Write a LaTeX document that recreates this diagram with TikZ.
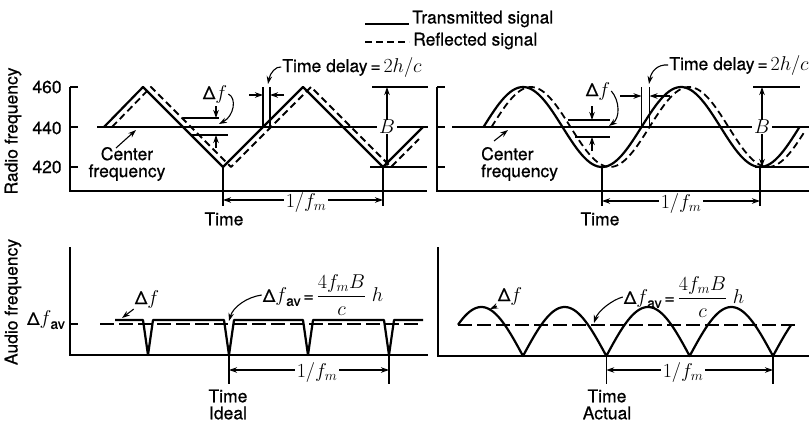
\RequirePackage{fix-cm}
\documentclass[tikz,border=0pt]{standalone}
\usepackage{fontspec}
\setmainfont{TeX Gyre Heros}[UprightFeatures={FakeBold=0.6}]
\usepackage{amsmath}
\usetikzlibrary{arrows.meta}
\newcommand\mm[1]{{\fontsize{20}{22}\selectfont$#1$}}
\begin{document}
\begin{tikzpicture}[x=1pt,y=-1pt,
  ln/.style={line width=1.5pt},
  wave/.style={line width=2.2pt,line join=round},
  refl/.style={line width=1.8pt,dash pattern=on 7pt off 4pt,line join=round},
  avg/.style={line width=1.1pt,dash pattern=on 14pt off 5pt},
  arr/.style={-{Stealth[length=8pt,width=5.5pt]},line width=1.1pt},
  dimline/.style={{Stealth[length=8pt,width=5.5pt]}-{Stealth[length=8pt,width=5.5pt]},line width=1.1pt},
  lbl/.style={font=\fontsize{17.5}{20}\selectfont,inner sep=1pt},
  cflbl/.style={font=\fontsize{17.5}{17}\selectfont,inner sep=0pt},
  wlbl/.style={lbl,fill=white,inner xsep=2pt,inner ysep=0pt}]
\useasboundingbox (0,0) rectangle (809,424);

% ---------- legend ----------
\coordinate (lg1a) at (365,24); \coordinate (lg1b) at (409,24);
\coordinate (lg2a) at (365,42); \coordinate (lg2b) at (409,42);
\draw[wave] (lg1a) -- (lg1b);
\draw[refl] (lg2a) -- (lg2b);
\node[lbl,anchor=west] (tx) at (411,19) {Transmitted signal};
\node[lbl,anchor=west] (rx) at (412,41) {Reflected signal};

% ---------- axis titles ----------
\node[lbl,rotate=90] (yrf) at (13,131) {Radio frequency};
\node[lbl,rotate=90] (yaf) at (13,302) {Audio frequency};

% ================= TOP LEFT =================
\draw[ln] (70,87) -- (70,191) -- (427,191);
\foreach \yy in {87,127,167} \draw[ln] (70,\yy) -- (78,\yy);
\node[lbl] (n460) at (47,87) {460};
\node[lbl] (n440) at (47,128) {440};
\node[lbl] (n420) at (47,167) {420};
\draw[ln] (97,127) -- (428,127);
\draw[ln] (372,87) -- (428,87);
\draw[ln] (370,167) -- (427,167);
\node[wlbl] (BL) at (387,127) {\mm{B}};
\draw[arr] (BL.north) -- (387,87);
\draw[arr] (BL.south) -- (387,167);
\draw[wave] (104,127) -- (143,87) -- (223,167) -- (303,87) -- (383,167) -- (423,127);
\draw[refl] (112,127) -- (151,87) -- (231,167) -- (311,87) -- (391,167) -- (419,139);
% delta f
\draw[ln] (183,118) -- (219,118);
\draw[ln] (192,135) -- (228,135);
\draw[arr] (216,106) -- (216,118);
\draw[arr] (216,148) -- (216,135);
\node[lbl] (dfL) at (215,94) {Δ\mm{f}};
\draw[arr] (dfL.east) .. controls (237,98) and (234,116) .. (219,124);
% time delay
\draw[ln] (263,87) -- (263,127);
\draw[ln] (270,87) -- (270,127);
\draw[arr] (249,95) -- (263,95);
\draw[arr] (284,95) -- (270,95);
\node[lbl] (tdL) at (352,67) {Time delay\,=\,\mm{2h/c}};
\draw[arr] (tdL.west) .. controls (276,66) and (270,73) .. (268,84);
% center frequency
\node[cflbl,align=center] (cfL) at (127,164) {Center\\frequency};
\draw[arr] (116,148) -- (136,130);
% period
\draw[ln] (223,167) -- (223,206);
\draw[ln] (383,167) -- (383,206);
\coordinate (pL1) at (223,200); \coordinate (pL2) at (383,200);
\draw[dimline] (pL1) -- (pL2);
\node[wlbl] (fmL) at (306,202) {\mm{1/f_m}};
\node[lbl] (timeL) at (224,219) {Time};

% ================= TOP RIGHT =================
\draw[ln] (437,87) -- (437,191) -- (809,191);
\foreach \yy in {87,127,167} \draw[ln] (437,\yy) -- (445,\yy);
\draw[ln] (452,127) -- (809,127);
\draw[ln] (753,87) -- (800,87);
\draw[ln] (755,167) -- (809,167);
\node[wlbl] (BR) at (762,127) {\mm{B}};
\draw[arr] (BR.north) -- (762,87);
\draw[arr] (BR.south) -- (762,167);
\draw[wave] plot[domain=483.5:799.5,samples=120] (\x,{127-40*sin(2.27848*(\x-483.5))});
\draw[refl] plot[domain=491.5:805,samples=120] (\x,{127-40*sin(2.27848*(\x-491.5))});
% delta f
\draw[ln] (568,120) -- (610,120);
\draw[ln] (575,137) -- (610,137);
\draw[arr] (592,106) -- (592,120);
\draw[arr] (592,151) -- (592,137);
\node[lbl] (dfR) at (598,91) {Δ\mm{f}};
\draw[arr] (dfR.east) .. controls (620,101) and (620,118) .. (609,126);
% time delay
\draw[ln] (641.5,87) -- (641.5,127);
\draw[ln] (649.5,87) -- (649.5,127);
\draw[arr] (620,96) -- (641.5,96);
\draw[arr] (670,96) -- (649.5,96);
\node[lbl] (tdR) at (739,65) {Time delay\,=\,\mm{2h/c}};
\draw[arr] (tdR.west) .. controls (657,64) and (651,72) .. (649,84);
% center frequency
\node[cflbl,align=left,anchor=west] (cfR) at (481,164) {Center\\frequency};
\draw[arr] (494,141) -- (508,130);
% period
\draw[ln] (602,167) -- (602,206);
\draw[ln] (760,167) -- (760,206);
\coordinate (pR1) at (602,201); \coordinate (pR2) at (760,201);
\draw[dimline] (pR1) -- (pR2);
\node[wlbl] (fmR) at (681,203) {\mm{1/f_m}};
\node[lbl] (timeR) at (600,219) {Time};

% ================= BOTTOM LEFT =================
\draw[ln] (70,247) -- (70,355) -- (428,355);
\draw[ln] (70,324) -- (78,324);
\node[lbl] (dfav) at (46,320) {Δ\mm{f}\kern-1pt\raisebox{-4pt}{\fontsize{14}{16}\selectfont av}};
\draw[avg] (100,324) -- (423,324);
\draw[wave] (115,320) -- (143,320) -- (148,355) -- (153,320) -- (224,320) -- (229,355) -- (234,320)
  -- (303,320) -- (308,355) -- (313,320) -- (384,320) -- (389,355) -- (394,320) -- (423,320);
\node[lbl] (dfBL) at (147,299) {Δ\mm{f}};
\draw[arr] (dfBL.south west) -- (122,318);
\node[lbl] (eqL) at (323,295) {Δ\mm{f}\kern-1pt\raisebox{-4pt}{\fontsize{14}{16}\selectfont av}\,=\,\mm{\dfrac{4f_m B}{c}\;h}};
\draw[arr] (eqL.west) .. controls (247,297) and (233,307) .. (229,321);
\draw[ln] (229,355) -- (229,384);
\draw[ln] (389,355) -- (389,384);
\coordinate (qL1) at (229,370); \coordinate (qL2) at (389,370);
\draw[dimline] (qL1) -- (qL2);
\node[wlbl] (fmBL) at (317,372) {\mm{1/f_m}};
\node[lbl] (timeBL) at (228,396) {Time};
\node[lbl] (ideal) at (228,413) {Ideal};

% ================= BOTTOM RIGHT =================
\draw[ln] (438,247) -- (438,356) -- (809,356);
\draw[avg] (458,325) -- (800,325);
\draw[wave] plot[domain=458:523,samples=40] (\x,{356-49*abs(sin(2.16008*(\x-523)))})
  -- plot[domain=523:606.33,samples=50] (\x,{356-49*abs(sin(2.16008*(\x-523)))})
  -- plot[domain=606.33:689.67,samples=50] (\x,{356-49*abs(sin(2.16008*(\x-523)))})
  -- plot[domain=689.67:773,samples=50] (\x,{356-49*abs(sin(2.16008*(\x-523)))})
  -- plot[domain=773:791,samples=15] (\x,{356-49*abs(sin(2.16008*(\x-523)))});
\node[lbl] (dfBR) at (510,296) {Δ\mm{f}};
\draw[arr] (dfBR.south west) -- (490,309);
\node[lbl] (eqR) at (684,297) {Δ\mm{f}\kern-1pt\raisebox{-4pt}{\fontsize{14}{16}\selectfont av}\,=\,\mm{\dfrac{4f_m B}{c}\;h}};
\draw[arr] (eqR.west) .. controls (612,300) and (598,311) .. (594,323);
\draw[ln] (606.33,356) -- (606.33,384);
\draw[ln] (773,356) -- (773,384);
\coordinate (qR1) at (606.33,370); \coordinate (qR2) at (773,370);
\draw[dimline] (qR1) -- (qR2);
\node[wlbl] (fmBR) at (683,372) {\mm{1/f_m}};
\node[lbl] (timeBR) at (607,396) {Time};
\node[lbl] (actual) at (607,413) {Actual};
\end{tikzpicture}
\end{document}
